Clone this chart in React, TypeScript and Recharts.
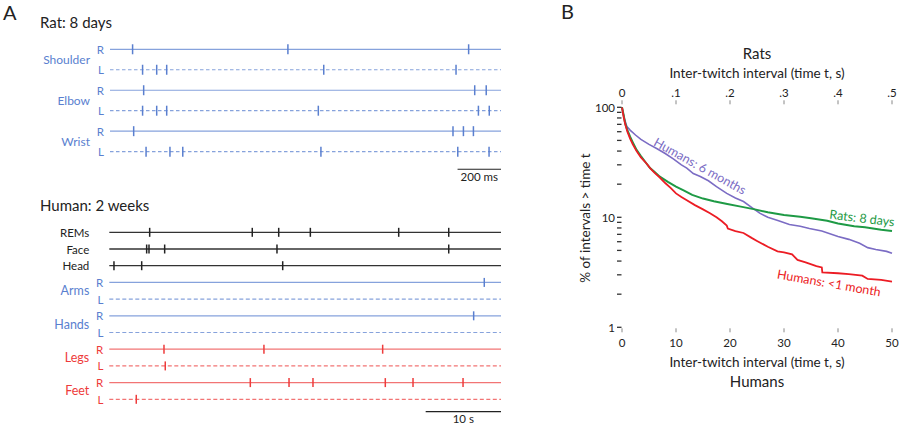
import React from "react";
import {
  ScatterChart,
  Scatter,
  XAxis,
  YAxis,
  ReferenceLine,
  Label,
  ComposedChart,
  Line,
} from "recharts";

const FONT = "Lato, 'Open Sans', sans-serif";

// ---- Panel A, rat 8 days: twitch times in ms ----
const ratShoulderR = [104, 819, 1651];
const ratShoulderL = [150, 215, 261, 984, 1593];
const ratElbowR = [155, 1679, 1732];
const ratElbowL = [150, 215, 261, 959, 1696, 1746];
const ratWristR = [109, 1579, 1627, 1673];
const ratWristL = [166, 276, 335, 971, 1601, 1745];
const ratGroups = ["Shoulder", "Elbow", "Wrist"];
const ratSides = ["R", "L", "R", "L", "R", "L"];

// ---- Panel A, human 2 weeks: twitch times in s ----
const humREMs = [5.36, 18.98, 22.49, 26.69, 38.42, 45.06];
const humFace = [4.96, 5.27, 7.35, 22.26, 45.06];
const humHead = [0.62, 4.3, 23.02];
const humArmsR = [49.78];
const humArmsL: number[] = [];
const humHandsR = [48.37];
const humHandsL: number[] = [];
const humLegsR = [7.26, 20.53, 36.29];
const humLegsL = [7.43];
const humFeetR = [18.72, 23.86, 27.04, 36.64, 40.32, 46.96];
const humFeetL = [3.58];
const humRowNames = ["REMs", "Face", "Head", "R", "L", "R", "L", "R", "L", "R", "L"];
const humGroups = ["Arms", "Hands", "Legs", "Feet"];

// ---- Panel B: survival curves (t, % of intervals > t) ----
const rat8dT = [0, 0.3, 0.6, 1, 1.5, 2, 2.7, 3.5, 4.5, 5.2, 6, 7, 8.5, 10, 11.5, 13, 15, 17, 19.5, 22, 24.6, 27, 30, 33, 35, 38, 40, 43, 45, 48, 50];
const rat8dP = [100, 85, 71, 62, 54, 48, 41, 36, 31, 28, 26, 23.4, 21, 19, 17.5, 16, 14.8, 14, 13.2, 12.5, 11.8, 11.1, 10.5, 10.1, 9.8, 9.3, 8.8, 8.3, 8.1, 7.7, 7.5];
const hum1mT = [0, 0.3, 0.6, 1, 1.5, 2, 2.7, 3.5, 4.5, 5.2, 6, 7, 8, 9, 10, 11, 12, 13.5, 15, 16.3, 17.5, 18.5, 19.4, 19.6, 21, 22.5, 24, 25, 27, 28.8, 30, 31.5, 32.5, 34, 36, 37, 37.1, 40, 42, 44.5, 45.5, 48, 50];
const hum1mP = [100, 82, 70, 60, 52, 46, 40, 35, 31, 28, 25.5, 23, 20.5, 18.5, 16.5, 15.3, 14.3, 12.9, 11.8, 10.9, 10, 9.2, 8.4, 7.9, 7.5, 7.2, 6.5, 6.1, 5.4, 4.9, 4.8, 4.6, 4.1, 3.9, 3.6, 3.5, 3.15, 3.1, 3.05, 2.95, 2.75, 2.7, 2.6];
const hum6mT = [0, 0.4, 0.9, 1.5, 2.5, 3.5, 5, 6.5, 8, 9.5, 11, 12, 13.2, 14.5, 16, 17.5, 19.4, 21, 22.5, 24, 25.5, 27, 29, 31, 33, 34.7, 37, 40, 42, 44, 45.5, 47, 49, 50];
const hum6mP = [100, 80, 67, 62, 56, 51, 46, 42, 38, 34, 30, 28, 25, 23.5, 21.5, 19, 16.5, 15, 13.9, 12.3, 10.9, 10, 9.3, 8.6, 8.3, 7.9, 7.5, 6.7, 6.3, 5.8, 5.3, 5.1, 4.9, 4.7];
const humanTicks = [0, 10, 20, 30, 40, 50];
const ratTicks = [0, 0.1, 0.2, 0.3, 0.4, 0.5];
const pctTicks = [1, 2, 3, 4, 5, 6, 7, 8, 9, 10, 20, 30, 40, 50, 60, 70, 80, 90, 100];

const toPoints = (times: number[], row: number) => times.map((t) => ({ t, row }));
const toCurve = (ts: number[], ps: number[], k = 1) => ts.map((t, i) => ({ t: t * k, p: ps[i] }));

const BLUE = "#5a7fcf";
const BLUE_LINE = "#86a2dc";
const RED = "#ee3b3b";
const RED_LINE = "#f27474";
const BLACK = "#222";

const ratRows = [ratShoulderR, ratShoulderL, ratElbowR, ratElbowL, ratWristR, ratWristL];
const humRows = [humREMs, humFace, humHead, humArmsR, humArmsL, humHandsR, humHandsL, humLegsR, humLegsL, humFeetR, humFeetL];
const humColor = (i: number) => (i < 3 ? BLACK : i < 7 ? BLUE : RED);
const humLine = (i: number) => (i === 1 ? "#666" : i < 3 ? "#333" : i < 7 ? BLUE_LINE : RED_LINE);

const tickMark = (color: string, half: number) => (props: any) => (
  <line x1={props.cx} x2={props.cx} y1={props.cy - half} y2={props.cy + half} stroke={color} strokeWidth={1.5} />
);

// short horizontal dash left of the y axis, one per log tick
const yDash = (props: any) => (
  <line x1={props.cx - 5} x2={props.cx - 0.5} y1={props.cy} y2={props.cy} stroke="#333" strokeWidth={1.3} />
);

const RatTick = (props: any) => {
  const { x, y, payload } = props;
  const i = payload.value;
  return (
    <g fontFamily={FONT} fill={BLUE}>
      <text x={x - 6} y={y} textAnchor="end" dominantBaseline="central" fontSize={11.5}>{ratSides[i]}</text>
      {i % 2 === 0 && (
        <text x={x - 20} y={y + 10.2} textAnchor="end" dominantBaseline="central" fontSize={12}>{ratGroups[i / 2]}</text>
      )}
    </g>
  );
};

const HumTick = (props: any) => {
  const { x, y, payload } = props;
  const i = payload.value;
  const c = humColor(i);
  if (i < 3)
    return (
      <text x={x - 20} y={y} textAnchor="end" dominantBaseline="central" fontSize={11.5} fontFamily={FONT} fill={BLACK}>{humRowNames[i]}</text>
    );
  return (
    <g fontFamily={FONT} fill={c}>
      <text x={x - 6} y={y} textAnchor="end" dominantBaseline="central" fontSize={11.5}>{humRowNames[i]}</text>
      {i % 2 === 1 && (
        <text x={x - 20} y={y + 8.3} textAnchor="end" dominantBaseline="central" fontSize={12.5}>{humGroups[(i - 3) / 2]}</text>
      )}
    </g>
  );
};

const BottomTick = (props: any) => {
  const { x, y, payload } = props;
  return (
    <g>
      <line x1={x} x2={x} y1={y + 1} y2={y + 5} stroke="#888" />
      <text x={x} y={y + 15} textAnchor="middle" dominantBaseline="central" fontSize={11.5} fontFamily={FONT} fill={BLACK}>{payload.value}</text>
    </g>
  );
};

const TopTick = (props: any) => {
  const { x, y, payload } = props;
  const v = payload.value;
  return (
    <g>
      <line x1={x} x2={x} y1={y - 7} y2={y - 3} stroke="#888" />
      <text x={x} y={y - 15} textAnchor="middle" dominantBaseline="central" fontSize={11.5} fontFamily={FONT} fill={BLACK}>{v === 0 ? "0" : "." + Math.round(v * 10)}</text>
    </g>
  );
};

const PctTick = (props: any) => {
  const { x, y, payload } = props;
  const v = payload.value;
  const show = v === 1 || v === 10 || v === 100;
  if (!show) return <g />;
  return (
    <text x={x - 7} y={y} textAnchor="end" dominantBaseline="central" fontSize={11.5} fontFamily={FONT} fill={BLACK}>{v}</text>
  );
};

export default function App() {
  return (
    <div style={{ position: "absolute", left: 0, top: 0, width: 900, height: 426, background: "#fff", overflow: "hidden" }}>
      <div style={{ position: "absolute", left: 0, top: 0 }}>
        <ScatterChart width={520} height={200} margin={{ top: 28.8, right: 19, bottom: 7.4, left: 10 }}>
          <XAxis dataKey="t" type="number" domain={[0, 1800]} hide />
          <YAxis dataKey="row" type="number" domain={[-1, 7]} reversed ticks={[0, 1, 2, 3, 4, 5]} width={100} interval={0}
            axisLine={false} tickLine={false} tickSize={0} tickMargin={0} tick={<RatTick />} />
          {ratRows.map((_, i) => (
            <ReferenceLine key={"rl" + i} y={i} stroke={BLUE_LINE} strokeWidth={1.2} strokeDasharray={i % 2 ? "3.5 2.5" : undefined} />
          ))}
          <ReferenceLine segment={[{ x: 1600, y: 5.86 }, { x: 1800, y: 5.86 }]} stroke={BLACK} strokeWidth={1.2}>
            <Label value="200 ms" position="bottom" offset={4} fontSize={11.5} fontFamily={FONT} fill={BLACK} />
          </ReferenceLine>
          {ratRows.map((r, i) => (
            <Scatter key={"rs" + i} data={toPoints(r, i)} shape={tickMark(BLUE, 5)} isAnimationActive={false} />
          ))}
        </ScatterChart>
      </div>

      <div style={{ position: "absolute", left: 0, top: 190 }}>
        <ScatterChart width={520} height={236} margin={{ top: 32.3, right: 19, bottom: 10, left: 9.3 }}>
          <XAxis dataKey="t" type="number" domain={[0, 52]} hide />
          <YAxis dataKey="row" type="number" domain={[-0.6, 11]} reversed ticks={[0, 1, 2, 3, 4, 5, 6, 7, 8, 9, 10]} width={100} interval={0}
            axisLine={false} tickLine={false} tickSize={0} tickMargin={0} tick={<HumTick />} />
          {humRows.map((_, i) => (
            <ReferenceLine key={"hl" + i} y={i} stroke={humLine(i)} strokeWidth={i === 1 ? 1.8 : 1.2}
              strokeDasharray={i >= 3 && i % 2 === 0 ? "4 2.5" : undefined} />
          ))}
          <ReferenceLine segment={[{ x: 42, y: 10.74 }, { x: 52, y: 10.74 }]} stroke={BLACK} strokeWidth={1.2}>
            <Label value="10 s" position="bottom" offset={3} fontSize={11.5} fontFamily={FONT} fill={BLACK} />
          </ReferenceLine>
          {humRows.map((r, i) => (
            <Scatter key={"hs" + i} data={toPoints(r, i)} shape={tickMark(humColor(i), 4.5)} isAnimationActive={false} />
          ))}
        </ScatterChart>
      </div>

      <div style={{ position: "absolute", left: 560, top: 0 }}>
        <ComposedChart width={340} height={426} margin={{ top: 87.3, right: 8, bottom: 78.7, left: 32 }}>
          <XAxis xAxisId="hum" dataKey="t" type="number" domain={[0, 50]} ticks={humanTicks} height={20} interval={0}
            axisLine={false} tickLine={false} tickSize={0} tickMargin={0} tick={<BottomTick />} />
          <XAxis xAxisId="rat" orientation="top" dataKey="t" type="number" domain={[0, 0.5]} ticks={ratTicks} height={20} interval={0}
            axisLine={false} tickLine={false} tickSize={0} tickMargin={0} tick={<TopTick />} />
          <YAxis dataKey="p" type="number" scale="log" domain={[1, 100]} ticks={pctTicks} width={30} interval={0}
            axisLine={false} tickLine={false} tickSize={0} tickMargin={0} tick={<PctTick />} />
          <Scatter xAxisId="hum" data={pctTicks.map((p) => ({ t: 0, p }))} dataKey="p" shape={yDash} isAnimationActive={false} />
          <Line xAxisId="hum" data={toCurve(hum6mT, hum6mP)} dataKey="p" stroke="#7b6cc4" strokeWidth={1.6} dot={false} isAnimationActive={false} />
          <Line xAxisId="rat" data={toCurve(rat8dT, rat8dP, 0.01)} dataKey="p" stroke="#1e9a45" strokeWidth={2} dot={false} isAnimationActive={false} />
          <Line xAxisId="hum" data={toCurve(hum1mT, hum1mP)} dataKey="p" stroke="#ec1c24" strokeWidth={1.8} dot={false} isAnimationActive={false} />
        </ComposedChart>
      </div>

      <svg width={900} height={426} style={{ position: "absolute", left: 0, top: 0, pointerEvents: "none" }} fontFamily={FONT}>
        <text x={3} y={20} fontSize={20} fill={BLACK}>A</text>
        <text x={561} y={19} fontSize={20} fill={BLACK}>B</text>
        <text x={40} y={27.5} fontSize={15} fill={BLACK}>Rat: 8 days</text>
        <text x={40} y={210.5} fontSize={15} fill={BLACK}>Human: 2 weeks</text>
        <text x={757} y={59} fontSize={15} textAnchor="middle" fill={BLACK}>Rats</text>
        <text x={757} y={78} fontSize={13.5} textAnchor="middle" fill={BLACK}>Inter-twitch interval (time t, s)</text>
        <text x={757} y={367} fontSize={13.5} textAnchor="middle" fill={BLACK}>Inter-twitch interval (time t, s)</text>
        <text x={757} y={387} fontSize={15} textAnchor="middle" fill={BLACK}>Humans</text>
        <text x={590} y={218} fontSize={13.5} textAnchor="middle" fill={BLACK} transform="rotate(-90 590 218)">% of intervals &gt; time t</text>
        <text x={700} y={166} fontSize={12.5} textAnchor="middle" dominantBaseline="central" fill="#7b6cc4" transform="rotate(29 700 166)">Humans: 6 months</text>
        <text x={862} y={218} fontSize={12.5} textAnchor="middle" dominantBaseline="central" fill="#1e9a45" transform="rotate(7 862 218)">Rats: 8 days</text>
        <text x={829} y={283} fontSize={12.5} textAnchor="middle" dominantBaseline="central" fill="#ec1c24" transform="rotate(10 829 283)">Humans: &lt;1 month</text>
      </svg>
    </div>
  );
}
